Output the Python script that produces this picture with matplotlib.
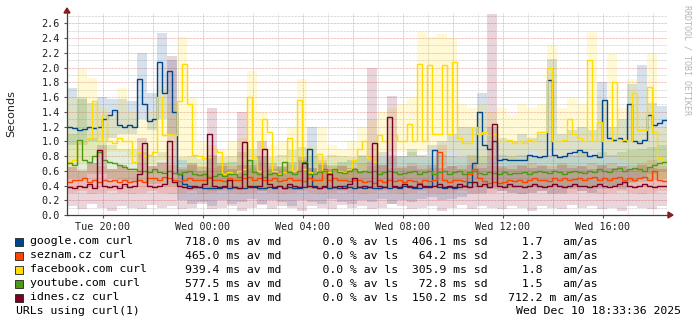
import numpy as np
import matplotlib
matplotlib.use("Agg")
import matplotlib.pyplot as plt
from matplotlib.patches import Rectangle, Polygon

# ---------------- data ----------------
series_names = ["google.com curl", "seznam.cz curl", "facebook.com curl",
                "youtube.com curl", "idnes.cz curl"]
series_colors = ["#00468C", "#FF4400", "#FFDD00", "#4C9A14", "#7A0026"]

av_md = [718.0, 465.0, 939.4, 577.5, 419.1]
av_ls = [0.0, 0.0, 0.0, 0.0, 0.0]
sd_ms = [406.1, 64.2, 305.9, 72.8, 150.2]
am_as = [1.7, 2.3, 1.8, 1.5, 712.2]
am_as_unit = [" ", " ", " ", " ", "m"]

footer_left = "URLs using curl(1)"
footer_right = "Wed Dec 10 18:33:36 2025"
y_label = "Seconds"
watermark = "RRDTOOL / TOBI OETIKER"

x_tick_labels = ["Tue 20:00", "Wed 00:00", "Wed 04:00", "Wed 08:00", "Wed 12:00", "Wed 16:00"]
x_tick_clock_hours = [20, 24, 28, 32, 36, 40]
start_clock_hour = 18 + 33 / 60 + 36 / 3600   # Tue 18:33:36
span_hours = 24
median_step_min = 12
smoke_step_min = 24

# median lines (seconds), one value per 12 minutes
google = [1.20, 1.18, 1.15, 1.17, 1.20, 1.18, 1.20, 1.30, 1.36, 1.42, 1.22, 1.20, 1.22, 1.20, 1.85,
          1.50, 1.28, 1.30, 2.08, 1.65, 1.95, 1.40, 0.55, 0.42, 0.40, 0.38, 0.38, 0.36, 0.37, 0.36,
          0.37, 0.38, 0.36, 0.38, 0.37, 0.36, 0.38, 0.40, 0.37, 0.36, 0.38, 0.37, 0.39, 0.36, 0.38,
          0.37, 0.36, 0.38, 0.90, 0.40, 0.37, 0.38, 0.36, 0.38, 0.37, 0.39, 0.38, 0.36, 0.38, 0.37,
          0.38, 0.36, 0.37, 0.38, 0.36, 0.38, 0.37, 0.39, 0.38, 0.36, 0.37, 0.38, 0.40, 0.88, 0.38,
          0.37, 0.38, 0.36, 0.38, 0.40, 0.45, 0.70, 1.40, 0.95, 0.90, 1.00, 0.74, 0.76, 0.75, 0.74,
          0.74, 0.75, 0.82, 0.80, 0.78, 0.80, 1.83, 0.82, 0.78, 0.80, 0.84, 0.86, 0.88, 0.85, 0.80,
          0.82, 0.78, 1.56, 1.04, 1.02, 1.05, 1.00, 1.50, 1.00, 0.98, 1.02, 1.35, 1.22, 1.25, 1.29]
seznam = [0.45, 0.48, 0.47, 0.50, 0.45, 0.47, 0.45, 0.48, 0.46, 0.48, 0.45, 0.47, 0.45, 0.46, 0.47,
          0.45, 0.50, 0.50, 0.48, 0.52, 0.50, 0.48, 0.46, 0.48, 0.50, 0.47, 0.48, 0.47, 0.50, 0.48,
          0.48, 0.46, 0.50, 0.48, 0.47, 0.50, 0.52, 0.48, 0.50, 0.47, 0.48, 0.50, 0.46, 0.48, 0.50,
          0.47, 0.48, 0.46, 0.50, 0.48, 0.47, 0.62, 0.48, 0.50, 0.47, 0.48, 0.46, 0.48, 0.47, 0.45,
          0.46, 0.44, 0.47, 0.45, 0.48, 0.46, 0.47, 0.45, 0.48, 0.46, 0.44, 0.47, 0.46, 0.48, 0.85,
          0.47, 0.45, 0.47, 0.48, 0.46, 0.55, 0.62, 0.50, 0.46, 0.44, 0.45, 0.43, 0.45, 0.47, 0.46,
          0.47, 0.45, 0.48, 0.50, 0.47, 0.48, 0.46, 0.50, 0.48, 0.50, 0.47, 0.49, 0.50, 0.48, 0.50,
          0.52, 0.48, 0.50, 0.47, 0.50, 0.52, 0.48, 0.50, 0.48, 0.50, 0.52, 0.48, 0.60, 0.47, 0.46]
facebook = [0.72, 0.75, 1.00, 0.97, 1.05, 1.55, 1.00, 1.35, 1.00, 0.98, 1.05, 1.00, 1.00, 0.72, 0.86,
            0.80, 0.82, 0.85, 1.60, 1.08, 1.10, 1.08, 1.55, 2.05, 1.50, 0.82, 0.80, 0.77, 0.78, 0.90,
            0.86, 0.55, 0.58, 0.56, 0.60, 0.62, 1.60, 0.77, 0.60, 1.30, 1.13, 0.60, 0.56, 0.58, 1.04,
            0.60, 1.56, 0.62, 0.58, 0.56, 0.83, 0.60, 0.58, 0.62, 0.60, 0.58, 0.62, 0.74, 0.90, 1.00,
            0.77, 0.72, 1.08, 1.00, 1.00, 1.08, 1.00, 1.00, 1.24, 1.00, 2.05, 1.00, 2.03, 1.10, 1.10,
            2.04, 1.10, 2.07, 1.05, 0.97, 0.97, 1.20, 1.10, 1.12, 1.08, 1.10, 1.00, 1.00, 1.02, 0.98,
            1.00, 0.98, 1.02, 1.00, 1.13, 1.13, 2.00, 1.00, 1.00, 1.02, 1.30, 1.10, 1.05, 1.00, 2.10,
            1.00, 1.26, 1.00, 1.00, 1.80, 1.00, 1.02, 1.00, 1.65, 1.15, 1.15, 1.74, 1.12, 0.77, 0.72]
youtube = [0.70, 0.68, 1.02, 0.75, 0.72, 0.80, 0.85, 0.75, 0.72, 0.70, 0.68, 0.65, 0.62, 0.62, 0.60,
           0.60, 0.58, 0.62, 0.58, 0.57, 0.60, 0.57, 0.55, 0.58, 0.60, 0.55, 0.54, 0.55, 0.52, 0.53,
           0.55, 0.53, 0.56, 0.55, 0.52, 0.55, 0.75, 0.58, 0.55, 0.52, 0.55, 0.57, 0.54, 0.72, 0.58,
           0.55, 0.60, 0.72, 0.56, 0.55, 0.58, 0.60, 0.56, 0.62, 0.58, 0.57, 0.60, 0.62, 0.58, 0.60,
           0.58, 0.60, 0.56, 0.58, 0.60, 0.58, 0.56, 0.57, 0.58, 0.60, 0.56, 0.58, 0.60, 0.56, 0.58,
           0.60, 0.56, 0.58, 0.60, 0.56, 0.58, 0.60, 0.57, 0.56, 0.58, 0.57, 0.55, 0.58, 0.56, 0.57,
           0.57, 0.58, 0.56, 0.58, 0.60, 0.58, 0.57, 0.60, 0.58, 0.56, 0.58, 0.60, 0.58, 0.57, 0.60,
           0.58, 0.62, 0.60, 0.58, 0.62, 0.64, 0.60, 0.62, 0.64, 0.62, 0.60, 0.65, 0.68, 0.70, 0.72]
idnes = [0.38, 0.36, 0.40, 0.38, 0.42, 0.37, 0.88, 0.40, 0.38, 0.40, 0.37, 0.42, 0.38, 0.40, 0.55,
         0.97, 0.40, 0.38, 0.40, 0.42, 1.00, 0.45, 0.40, 0.38, 0.37, 0.40, 0.38, 0.42, 1.10, 0.40,
         0.38, 0.40, 0.48, 0.38, 0.36, 0.99, 0.40, 0.38, 0.40, 0.90, 0.42, 0.38, 0.40, 0.37, 0.42,
         0.40, 0.38, 0.70, 0.40, 0.38, 0.36, 0.40, 0.55, 0.38, 0.40, 0.37, 0.42, 0.50, 0.38, 0.40,
         0.38, 0.97, 0.40, 0.38, 1.33, 0.40, 0.38, 0.42, 0.40, 0.38, 0.42, 0.40, 0.38, 0.40, 0.42,
         0.38, 0.40, 0.38, 0.42, 0.40, 0.38, 0.45, 0.40, 0.42, 0.38, 1.24, 0.40, 0.38, 0.42, 0.40,
         0.40, 0.38, 0.40, 0.42, 0.40, 0.38, 0.40, 0.42, 0.40, 0.38, 0.40, 0.42, 0.40, 0.40, 0.38,
         0.40, 0.42, 0.40, 0.38, 0.40, 0.42, 0.45, 0.40, 0.38, 0.40, 0.42, 0.40, 0.38, 0.40, 0.40]

# smoke ranges (seconds), one low/high pair per 24 minutes
google_lo = [0.95, 0.95, 1.00, 1.05, 1.05, 1.10, 1.10, 1.30, 1.15, 1.30, 1.10, 0.20, 0.15, 0.18, 0.12,
             0.20, 0.15, 0.18, 0.22, 0.15, 0.20, 0.18, 0.12, 0.20, 0.18, 0.15, 0.22, 0.18, 0.15, 0.20,
             0.18, 0.22, 0.15, 0.20, 0.18, 0.22, 0.25, 0.20, 0.22, 0.25, 0.28, 0.30, 0.35, 0.32, 0.30,
             0.28, 0.30, 0.32, 0.28, 0.30, 0.35, 0.32, 0.30, 0.35, 0.40, 0.35, 0.45, 0.50, 0.55, 0.60]
google_hi = [1.72, 1.58, 1.52, 1.60, 1.58, 1.58, 1.55, 2.20, 1.65, 2.47, 2.10, 0.75, 0.70, 0.65, 0.80,
             0.70, 0.72, 0.68, 0.75, 0.80, 0.70, 0.65, 0.72, 0.75, 1.20, 0.70, 0.68, 0.72, 0.75, 0.80,
             0.72, 0.85, 0.78, 0.80, 0.90, 0.82, 0.95, 1.00, 1.10, 1.20, 1.20, 1.66, 1.20, 1.05, 1.00,
             1.10, 1.05, 1.10, 2.12, 1.10, 1.15, 1.20, 1.15, 1.80, 1.20, 1.30, 1.77, 2.03, 1.52, 1.48]
seznam_lo = [0.30, 0.32, 0.28, 0.30, 0.33, 0.30, 0.28, 0.30, 0.32, 0.30, 0.28, 0.30, 0.32, 0.28, 0.30,
             0.32, 0.30, 0.28, 0.30, 0.32, 0.30, 0.28, 0.30, 0.32, 0.30, 0.28, 0.30, 0.32, 0.30, 0.28,
             0.30, 0.32, 0.30, 0.28, 0.30, 0.32, 0.30, 0.28, 0.30, 0.32, 0.30, 0.28, 0.30, 0.32, 0.30,
             0.28, 0.30, 0.32, 0.30, 0.28, 0.30, 0.32, 0.30, 0.28, 0.30, 0.32, 0.30, 0.28, 0.30, 0.32]
seznam_hi = [0.65, 0.62, 0.70, 0.66, 0.62, 0.68, 0.64, 0.70, 0.66, 0.72, 0.68, 0.65, 0.70, 0.66, 0.64,
             0.70, 0.66, 0.68, 0.64, 0.70, 0.66, 0.62, 0.68, 0.66, 0.64, 0.75, 0.66, 0.68, 0.64, 0.70,
             0.66, 0.68, 0.64, 0.66, 0.70, 0.68, 0.64, 0.95, 0.66, 0.68, 0.78, 0.70, 0.66, 0.64, 0.68,
             0.66, 0.70, 0.68, 0.66, 0.70, 0.68, 0.66, 0.70, 0.68, 0.70, 0.66, 0.68, 0.70, 0.75, 0.66]
facebook_lo = [0.65, 0.70, 0.75, 0.80, 0.85, 0.85, 0.80, 0.70, 0.70, 0.75, 0.80, 0.75, 0.60, 0.40, 0.35,
               0.38, 0.40, 0.35, 0.40, 0.38, 0.35, 0.40, 0.38, 0.42, 0.40, 0.38, 0.42, 0.45, 0.50, 0.60,
               0.70, 0.80, 0.85, 0.85, 0.80, 0.85, 0.85, 0.80, 0.85, 0.80, 0.75, 0.70, 0.75, 0.80, 0.75,
               0.80, 0.85, 0.80, 0.85, 0.80, 0.85, 0.80, 0.85, 0.80, 0.80, 0.75, 0.70, 0.55, 0.50, 0.45]
facebook_hi = [1.60, 1.98, 1.86, 1.45, 1.35, 1.72, 1.40, 1.30, 1.40, 1.75, 1.50, 2.42, 1.60, 1.00, 0.95,
               0.90, 1.00, 1.05, 1.95, 1.40, 0.95, 1.00, 1.20, 1.85, 0.95, 1.20, 0.95, 0.90, 1.00, 1.20,
               1.30, 1.40, 1.45, 1.50, 1.60, 2.48, 2.41, 2.46, 2.40, 1.50, 1.45, 1.50, 1.40, 1.45, 1.35,
               1.50, 1.45, 1.50, 2.30, 1.45, 1.60, 1.50, 2.48, 1.55, 2.19, 1.45, 1.85, 1.40, 2.20, 1.20]
youtube_lo = [0.50, 0.50, 0.55, 0.55, 0.50, 0.48, 0.45, 0.45, 0.42, 0.42, 0.40, 0.40, 0.35, 0.38, 0.32,
              0.36, 0.34, 0.38, 0.35, 0.32, 0.36, 0.38, 0.34, 0.36, 0.35, 0.38, 0.34, 0.36, 0.38, 0.35,
              0.38, 0.36, 0.40, 0.38, 0.36, 0.40, 0.38, 0.36, 0.40, 0.38, 0.36, 0.38, 0.40, 0.38, 0.36,
              0.40, 0.38, 0.36, 0.40, 0.38, 0.40, 0.38, 0.40, 0.42, 0.40, 0.42, 0.44, 0.45, 0.48, 0.50]
youtube_hi = [1.10, 1.60, 1.05, 1.05, 0.95, 0.90, 0.90, 0.85, 0.80, 0.85, 0.80, 0.78, 0.80, 0.76, 0.82,
              0.78, 0.80, 0.85, 0.90, 0.80, 0.78, 0.82, 0.88, 0.92, 0.80, 0.78, 0.82, 0.80, 0.78, 0.82,
              0.80, 0.78, 0.82, 0.80, 0.85, 0.80, 0.78, 0.82, 0.80, 0.78, 0.82, 0.80, 0.78, 0.82, 0.80,
              0.82, 0.80, 0.78, 0.82, 0.80, 0.82, 0.85, 0.80, 0.85, 0.82, 0.85, 0.88, 0.90, 0.92, 0.95]
idnes_lo = [0.12, 0.08, 0.15, 0.10, 0.06, 0.12, 0.10, 0.08, 0.14, 0.10, 0.12, 0.08, 0.10, 0.15, 0.08,
            0.10, 0.12, 0.06, 0.10, 0.14, 0.08, 0.12, 0.10, 0.06, 0.12, 0.10, 0.08, 0.14, 0.10, 0.12,
            0.08, 0.10, 0.15, 0.12, 0.08, 0.10, 0.12, 0.06, 0.10, 0.14, 0.08, 0.12, 0.10, 0.08, 0.12,
            0.10, 0.06, 0.12, 0.10, 0.08, 0.14, 0.10, 0.12, 0.08, 0.10, 0.06, 0.12, 0.10, 0.08, 0.12]
idnes_hi = [0.65, 0.60, 0.70, 0.95, 0.62, 0.68, 0.60, 1.05, 0.66, 0.70, 2.16, 0.62, 0.68, 0.60, 1.45,
            0.66, 0.62, 1.40, 0.68, 1.00, 0.62, 0.66, 0.60, 0.78, 0.64, 0.68, 0.62, 0.66, 0.64, 0.60,
            2.00, 0.68, 1.62, 0.64, 0.66, 0.62, 0.68, 0.64, 0.66, 0.62, 0.68, 0.64, 2.73, 0.66, 0.62,
            0.68, 0.64, 0.66, 0.62, 0.68, 0.64, 0.66, 0.62, 0.68, 0.64, 0.66, 0.62, 0.68, 0.64, 0.62]

medians = [google, seznam, facebook, youtube, idnes]
smoke_lo = [google_lo, seznam_lo, facebook_lo, youtube_lo, idnes_lo]
smoke_hi = [google_hi, seznam_hi, facebook_hi, youtube_hi, idnes_hi]

# ---------------- figure ----------------
W, H = 697, 325
fig = plt.figure(figsize=(W / 100, H / 100), dpi=100)
fig.patch.set_facecolor("white")


def fx(px):
    return px / W


def fy(py):
    return 1 - py / H


L, R, B, T = 67, 667, 215, 13
px_per_unit = (215 - 23.3) / 2.6
ax = fig.add_axes([fx(L), fy(B), (R - L) / W, (B - T) / H])
ax.set_xlim(0, span_hours)
ax.set_ylim(0, (B - T) / px_per_unit)
ax.set_facecolor("white")
for s in ax.spines.values():
    s.set_visible(False)

# grid
minor_grid = "#D0D0D0"
major_grid = "#F0A8A8"
dots = (0, (0.72, 0.72))
for k in range(1, 28):
    v = k * 0.1
    is_major = (k % 2 == 0)
    ax.axhline(v, color=major_grid if is_major else minor_grid, lw=0.72, ls=dots, zorder=0)
first_h = int(np.ceil(start_clock_hour))
for h in range(first_h, first_h + span_hours):
    pos = h - start_clock_hour
    if 0 < pos < span_hours:
        ax.axvline(pos, color=major_grid if h % 2 == 0 else minor_grid, lw=0.72, ls=dots, zorder=0)

# smoke
med_edges = np.arange(len(google) + 1) * median_step_min / 60
smoke_edges = np.arange(len(google_lo) + 1) * smoke_step_min / 60
for lo, hi, c in zip(smoke_lo, smoke_hi, series_colors):
    ax.stairs(hi, smoke_edges, baseline=lo, fill=True, color=c, alpha=0.16, lw=0, zorder=1)

# median lines
for vals, c in zip(medians, series_colors):
    ax.stairs(vals, med_edges, baseline=None, color=c, lw=1.0, zorder=3)

# ticks
ax.set_yticks(np.round(np.arange(0, 2.61, 0.2), 1))
ax.set_yticklabels([f"{v:.1f}" for v in np.arange(0, 2.61, 0.2)])
ax.set_xticks([h - start_clock_hour for h in x_tick_clock_hours])
ax.set_xticklabels(x_tick_labels)
ax.tick_params(axis="both", length=2.5, width=0.8, color="#555555", pad=2.5,
               labelsize=7.3, labelcolor="#202020")
for lab in ax.get_xticklabels() + ax.get_yticklabels():
    lab.set_fontfamily("DejaVu Sans Mono")

# axis lines and arrows (pixel geometry)
axis_col = "#404040"
arrow_col = "#8C1A1A"
fig.add_artist(plt.Line2D([fx(L), fx(L)], [fy(B), fy(12)], color=axis_col, lw=0.9))
fig.add_artist(plt.Line2D([fx(L), fx(669)], [fy(B), fy(B)], color=axis_col, lw=0.9))
fig.add_artist(Polygon([[fx(64), fy(13)], [fx(70), fy(13)], [fx(67), fy(8)]],
                       closed=True, color=arrow_col, transform=fig.transFigure))
fig.add_artist(Polygon([[fx(668), fy(212)], [fx(668), fy(218)], [fx(673), fy(215)]],
                       closed=True, color=arrow_col, transform=fig.transFigure))

# y label
fig.text(fx(11), fy(114), y_label, rotation=90, ha="center", va="center",
         fontsize=8, family="DejaVu Sans", color="#202020")
# watermark
fig.text(fx(687), fy(5), watermark, rotation=270, ha="center", va="top",
         fontsize=6, family="DejaVu Sans Mono", color="#B4B4B4")

# legend
mono = "DejaVu Sans Mono"
row_y = [241.5, 255.5, 269.5, 283.5, 297.5]
for i in range(len(series_names)):
    y = row_y[i]
    fig.add_artist(Rectangle((fx(15), fy(y + 4)), 8 / W, 8 / H, transform=fig.transFigure,
                             facecolor=series_colors[i], edgecolor="#202020", lw=0.6))
    fig.text(fx(30), fy(y), series_names[i], ha="left", va="center",
             fontsize=8.25, family=mono, color="black")
    stats = (f"{av_md[i]:5.1f} ms av md      {av_ls[i]:3.1f} % av ls  "
             f"{sd_ms[i]:5.1f} ms sd   {am_as[i]:5.1f} {am_as_unit[i]} am/as")
    fig.text(fx(185), fy(y), stats, ha="left", va="center",
             fontsize=8.25, family=mono, color="black")

fig.text(fx(16), fy(311.5), footer_left, ha="left", va="center",
         fontsize=8.25, family=mono, color="black")
fig.text(fx(681), fy(311.5), footer_right, ha="right", va="center",
         fontsize=8.25, family=mono, color="black")

fig.savefig("out.png", dpi=100, facecolor="white")
